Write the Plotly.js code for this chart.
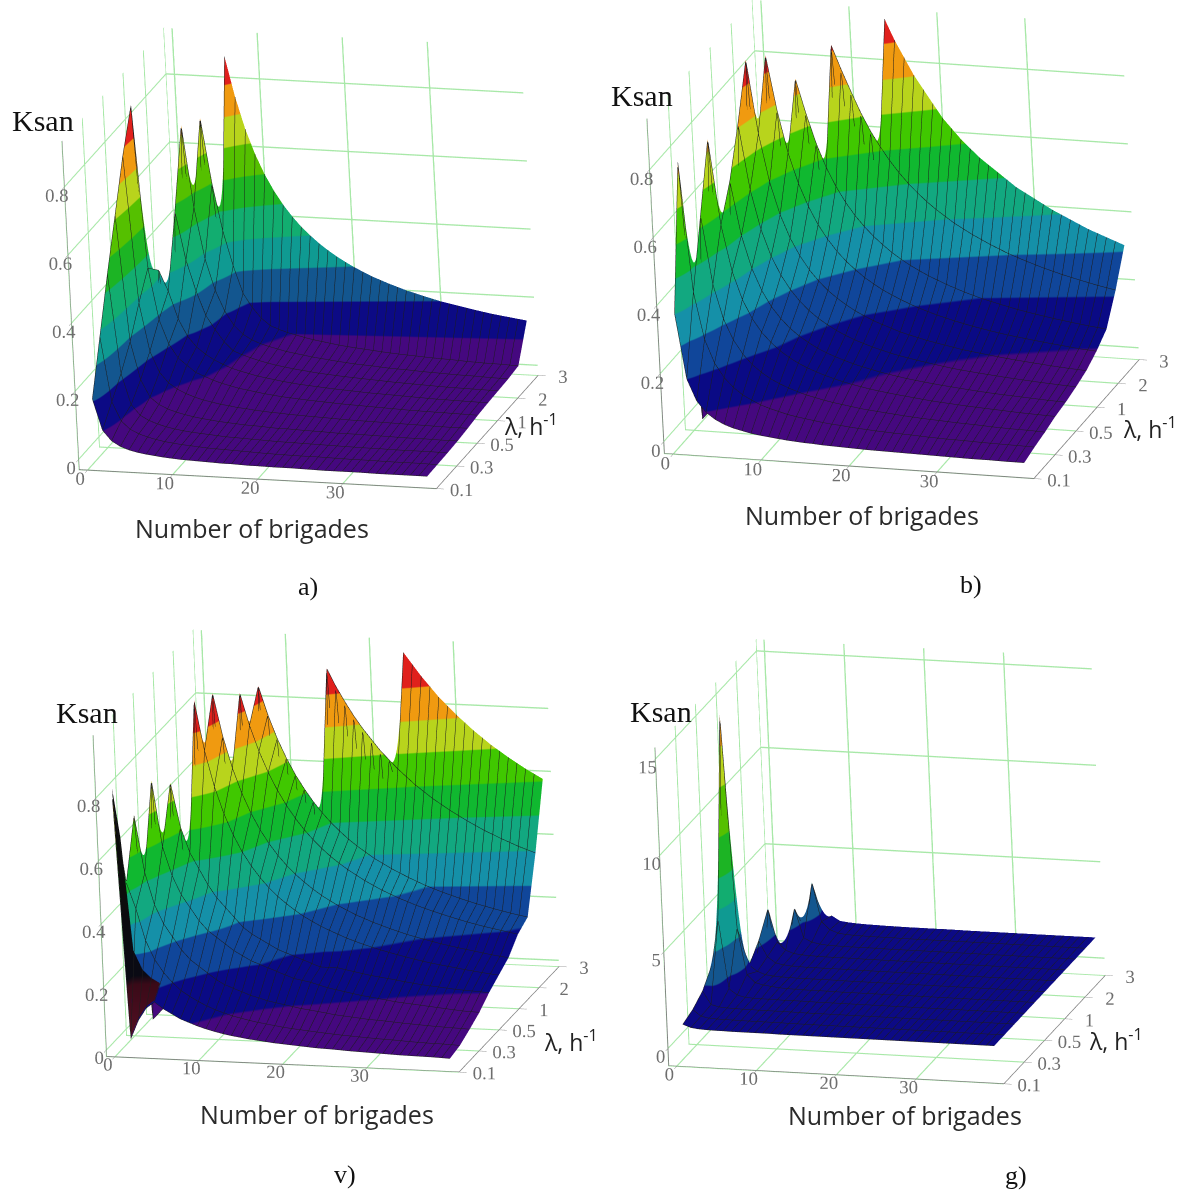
<!DOCTYPE html>
<html><head><meta charset="utf-8"><script src="https://cdn.plot.ly/plotly-3.0.1.min.js"></script>
<style>html,body{margin:0;padding:0;background:#fff}</style></head><body><div id="chart" style="width:1186px;height:1195px"></div>
<script>
const brigades=[1,2,3,4,5,6,7,8,9,10,11,12,13,14,15,16,17,18,19,20,22,24,26,28,30,32,34,36,38,40];
const lambdaIndex=[0,1,2,3,4,5,6,7,8,9,10];
const lambdaTickPos=[0,2,4,6,8,10];
const lambdaLabels=['0.1','0.3','0.5','1','2','3'];
const brigadeTicks=[0,10,20,30];
const zTicksUnit=[0,0.2,0.4,0.6,0.8];
const zTicksG=[0,5,10,15];
const panelNames=['a)','b)','v)','g)'];

const zA=[
[.18,.09,.06,.045,.036,.03,.026,.023,.02,.018,.016,.015,.014,.013,.012,.011,.011,.01,.009,.009,.008,.008,.007,.006,.006,.006,.005,.005,.005,.005],
[.33,.14,.085,.062,.05,.042,.036,.031,.028,.025,.023,.021,.019,.018,.017,.016,.015,.014,.013,.012,.011,.01,.01,.009,.008,.008,.007,.007,.007,.006],
[.48,.19,.1,.07,.056,.047,.04,.035,.031,.028,.026,.024,.022,.02,.019,.018,.017,.016,.015,.014,.013,.012,.011,.01,.009,.009,.008,.008,.008,.007],
[.62,.25,.14,.09,.07,.058,.05,.044,.039,.035,.032,.029,.027,.025,.023,.022,.021,.019,.018,.018,.016,.015,.013,.013,.012,.011,.01,.01,.009,.009],
[.76,.33,.19,.13,.1,.083,.071,.062,.055,.05,.045,.042,.038,.036,.033,.031,.029,.028,.026,.025,.023,.021,.019,.018,.017,.016,.015,.014,.013,.013],
[.875,.4,.25,.18,.14,.12,.1,.09,.08,.072,.066,.06,.056,.052,.048,.045,.042,.04,.038,.036,.033,.03,.028,.026,.024,.022,.021,.02,.019,.018],
[0,.36,.3,.22,.17,.14,.12,.105,.093,.083,.076,.07,.064,.06,.056,.052,.049,.046,.044,.042,.038,.035,.032,.03,.028,.026,.024,.023,.022,.021],
[0,0,.5,.36,.27,.2,.16,.125,.1,.09,.082,.075,.069,.064,.06,.056,.053,.05,.047,.045,.041,.038,.035,.032,.03,.028,.026,.025,.024,.023],
[0,0,.72,.48,.33,.24,.18,.14,.115,.1,.09,.083,.077,.071,.067,.063,.059,.056,.053,.05,.045,.042,.038,.036,.033,.031,.029,.028,.026,.025],
[0,0,0,.71,.52,.38,.28,.2,.16,.13,.11,.1,.092,.086,.08,.075,.071,.067,.063,.06,.055,.05,.046,.043,.04,.038,.035,.033,.032,.03],
[0,0,0,0,0,.86,.743,.65,.578,.52,.473,.433,.4,.371,.347,.325,.306,.289,.274,.26,.236,.217,.2,.186,.173,.163,.153,.144,.137,.13]];

const zB=[
[.38,.19,.127,.095,.076,.063,.054,.048,.042,.038,.035,.032,.029,.027,.025,.024,.022,.021,.02,.019,.017,.016,.015,.014,.013,.012,.011,.011,.01,.01],
[.79,.41,.273,.205,.164,.137,.117,.103,.091,.082,.075,.068,.063,.059,.055,.051,.048,.046,.043,.041,.037,.034,.032,.029,.027,.026,.024,.023,.022,.021],
[0,.6,.4,.3,.24,.2,.171,.15,.133,.12,.109,.1,.092,.086,.08,.075,.071,.067,.063,.06,.055,.05,.046,.043,.04,.038,.035,.033,.032,.03],
[0,.79,.54,.405,.324,.27,.231,.203,.18,.162,.147,.135,.125,.116,.108,.101,.095,.09,.085,.081,.074,.068,.062,.058,.054,.051,.048,.045,.043,.041],
[0,0,.633,.475,.38,.317,.271,.238,.211,.19,.173,.158,.146,.136,.127,.119,.112,.106,.1,.095,.086,.079,.073,.068,.063,.059,.056,.053,.05,.048],
[0,0,.767,.575,.46,.383,.329,.288,.256,.23,.209,.192,.177,.164,.153,.144,.135,.128,.121,.115,.105,.096,.088,.082,.077,.072,.068,.064,.061,.058],
[0,0,.92,.705,.564,.47,.403,.353,.313,.282,.256,.235,.217,.201,.188,.176,.166,.157,.148,.141,.128,.118,.108,.101,.094,.088,.083,.078,.074,.071],
[0,0,0,.9,.74,.617,.529,.463,.411,.37,.336,.308,.285,.264,.247,.231,.218,.206,.195,.185,.168,.154,.142,.132,.123,.116,.109,.103,.097,.093],
[0,0,0,0,0,.8,.7,.613,.544,.49,.445,.408,.377,.35,.327,.306,.288,.272,.258,.245,.223,.204,.188,.175,.163,.153,.144,.136,.129,.123],
[0,0,0,0,0,0,0,0,.87,.8,.736,.675,.623,.579,.54,.506,.476,.45,.426,.405,.368,.338,.312,.289,.27,.253,.238,.225,.213,.203],
[0,0,0,0,0,0,0,0,0,0,0,0,0,.92,.86,.81,.76,.72,.68,.64,.58,.53,.49,.45,.42,.39,.365,.34,.32,.3]];

const zV=[
[.8,.04,.1,.14,.16,.14,.125,.11,.1,.09,.082,.075,.069,.064,.06,.056,.053,.05,.047,.045,.041,.037,.035,.032,.03,.028,.026,.025,.024,.022],
[.5,.42,.32,.26,.22,.19,.165,.148,.133,.12,.109,.1,.092,.086,.08,.075,.071,.067,.063,.06,.055,.05,.046,.043,.04,.038,.035,.033,.032,.03],
[.68,.5,.4,.34,.3,.26,.23,.21,.19,.17,.155,.145,.135,.125,.118,.11,.105,.1,.095,.09,.083,.075,.07,.065,.062,.058,.055,.052,.05,.048],
[0,.76,.55,.46,.4,.36,.32,.29,.27,.25,.23,.215,.2,.19,.18,.17,.16,.15,.145,.14,.125,.115,.105,.098,.09,.085,.08,.075,.07,.068],
[0,0,.72,.58,.5,.45,.4,.36,.33,.3,.27,.25,.235,.22,.205,.195,.185,.175,.165,.155,.155,.145,.135,.128,.12,.113,.108,.103,.1,.097],
[0,0,0,0,.95,.792,.679,.594,.528,.475,.432,.396,.365,.339,.317,.297,.279,.264,.25,.238,.216,.198,.183,.17,.158,.148,.14,.132,.125,.119],
[0,0,0,0,0,.94,.806,.705,.627,.564,.513,.47,.434,.403,.376,.353,.332,.313,.297,.282,.256,.235,.217,.201,.188,.176,.166,.157,.148,.141],
[0,0,0,0,0,0,0,.91,.809,.728,.662,.607,.56,.52,.485,.455,.428,.404,.383,.364,.331,.303,.28,.26,.243,.228,.214,.202,.192,.182],
[0,0,0,0,0,0,0,0,.9,.81,.736,.675,.623,.579,.54,.506,.476,.45,.426,.405,.368,.338,.312,.289,.27,.253,.238,.225,.213,.203],
[0,0,0,0,0,0,0,0,0,0,0,0,0,0,0,.931,.876,.828,.784,.745,.677,.621,.573,.532,.497,.466,.438,.414,.392,.373],
[0,0,0,0,0,0,0,0,0,0,0,0,0,0,0,0,0,0,0,0,0,.958,.885,.821,.767,.719,.676,.639,.605,.575]];

const sliverX=[1,2,3,4,5];
const sliverY=[0,0.6];
const sliverZ=[[.835,.045,.105,.145,.165],[.66,.3,.24,.215,.2]];

const zG=[
[1.3,1.15,1.1,1.08,1.07,1.07,1.06,1.06,1.06,1.06,1.06,1.06,1.05,1.05,1.05,1.05,1.05,1.05,1.05,1.05,1.05,1.05,1.05,1.05,1.05,1.05,1.05,1.05,1.05,1.05],
[1.5,1.18,1.1,1.08,1.07,1.07,1.06,1.06,1.06,1.06,1.06,1.06,1.05,1.05,1.05,1.05,1.05,1.05,1.05,1.05,1.05,1.05,1.05,1.05,1.05,1.05,1.05,1.05,1.05,1.05],
[1.9,1.22,1.12,1.09,1.08,1.07,1.07,1.06,1.06,1.06,1.06,1.06,1.05,1.05,1.05,1.05,1.05,1.05,1.05,1.05,1.05,1.05,1.05,1.05,1.05,1.05,1.05,1.05,1.05,1.05],
[2.7,5.1,1.5,1.2,1.1,1.08,1.07,1.07,1.06,1.06,1.06,1.06,1.06,1.05,1.05,1.05,1.05,1.05,1.05,1.05,1.05,1.05,1.05,1.05,1.05,1.05,1.05,1.05,1.05,1.05],
[1.7,15.1,4.1,1.7,1.3,1.2,1.15,1.1,1.08,1.07,1.06,1.06,1.06,1.06,1.05,1.05,1.05,1.05,1.05,1.05,1.05,1.05,1.05,1.05,1.05,1.05,1.05,1.05,1.05,1.05],
[-.9,-.9,1.6,1.3,1.15,1.1,1.08,1.07,1.06,1.06,1.06,1.06,1.06,1.06,1.05,1.05,1.05,1.05,1.05,1.05,1.05,1.05,1.05,1.05,1.05,1.05,1.05,1.05,1.05,1.05],
[-.9,-.9,2.3,1.5,1.2,1.12,1.08,1.07,1.06,1.06,1.06,1.06,1.06,1.06,1.05,1.05,1.05,1.05,1.05,1.05,1.05,1.05,1.05,1.05,1.05,1.05,1.05,1.05,1.05,1.05],
[-.9,-.9,3.4,1.7,1.3,1.15,1.1,1.08,1.07,1.06,1.06,1.06,1.06,1.06,1.05,1.05,1.05,1.05,1.05,1.05,1.05,1.05,1.05,1.05,1.05,1.05,1.05,1.05,1.05,1.05],
[-.9,-.9,-.9,.8,2.9,1.4,1.2,1.12,1.08,1.07,1.06,1.06,1.06,1.06,1.06,1.05,1.05,1.05,1.05,1.05,1.05,1.05,1.05,1.05,1.05,1.05,1.05,1.05,1.05,1.05],
[-.9,-.9,-.9,-.9,1.1,3.7,1.7,1.3,1.15,1.1,1.08,1.07,1.06,1.06,1.06,1.06,1.05,1.05,1.05,1.05,1.05,1.05,1.05,1.05,1.05,1.05,1.05,1.05,1.05,1.05],
[-.9,-.9,-.9,-.9,-.9,1.1,1.45,1.2,1.15,1.12,1.1,1.09,1.08,1.07,1.07,1.06,1.06,1.06,1.06,1.06,1.06,1.05,1.05,1.05,1.05,1.05,1.05,1.05,1.05,1.05]];

const bandColors=['#45087f','#0c0a85','#13568f','#0f9a92','#12ad70','#1cb424','#55c000','#b8d41c','#f09a10','#e0201c'];
const bandColors2=['#45087f','#0a0a85','#10469a','#1590a8','#12a880','#10b830','#40c800','#b8d41c','#f09a10','#e0201c'];
const bandColorsG=['#0c0a85','#0c0a85','#13568f','#0f9a92','#12ad70','#1cb424','#55c000','#b8d41c','#f09a10','#6b4a20'];
const sliverColors=[[0,'#5a1026'],[0.4,'#3a0a18'],[0.45,'#0a0a14'],[1,'#0c0c0c']];
const gEdges=[-.9,.6,2.1,3.6,5.6,7.1,9.1,11.6,13.6,14.6,15.6];
const W=1186,H=1195;

function stepped(cols,edges){const out=[];const lo=edges[0],hi=edges[edges.length-1];
 cols.forEach((c,i)=>{out.push([(edges[i]-lo)/(hi-lo),c]);out.push([(edges[i+1]-lo)/(hi-lo),c]);});return out;}
const uniEdges=[0,.1,.2,.3,.4,.5,.6,.7,.8,.9,1];

function camera(azDeg,elDeg,rollDeg,dist,panUp){
 const a=azDeg*Math.PI/180,e=elDeg*Math.PI/180,ro=rollDeg*Math.PI/180;
 const d=[Math.sin(a)*Math.cos(e),-Math.cos(a)*Math.cos(e),Math.sin(e)];
 const r=[Math.cos(a),Math.sin(a),0];
 const u=[-Math.sin(a)*Math.sin(e),Math.cos(a)*Math.sin(e),Math.cos(e)];
 const up=[0,1,2].map(i=>u[i]*Math.cos(ro)+r[i]*Math.sin(ro));
 const c=[0,1,2].map(i=>-up[i]*panUp);
 const v=i=>c[i]+d[i]*dist;
 return {eye:{x:v(0),y:v(1),z:v(2)},center:{x:c[0],y:c[1],z:c[2]},up:{x:up[0],y:up[1],z:up[2]},projection:{type:'orthographic'}};
}
function axis(tickvals,ticktext,range,fs){
 return {range,tickmode:'array',tickvals,ticktext,title:{text:''},showbackground:true,backgroundcolor:'#ffffff',tickangle:0,
  gridcolor:'#a8e8a8',gridwidth:3,showline:true,linecolor:'#808080',linewidth:2,ticks:'outside',tickcolor:'#808080',ticklen:8,
  zeroline:false,showspikes:false,tickfont:{family:'Liberation Serif',size:fs,color:'#6e6e6e'}};
}
function scene(cx,cy,hw,hh,top,cam,zTicks,zRange,ar){
 return {domain:{x:[(cx-hw)/W,(cx+hw)/W],y:[1-(top+2*hh)/H,1-top/H]},camera:cam,aspectmode:'manual',aspectratio:ar,
  xaxis:axis(brigadeTicks,brigadeTicks.map(String),[-1,41],15),
  yaxis:axis(lambdaTickPos,lambdaLabels,[0,10],15),
  zaxis:axis(zTicks,zTicks.map(v=>v+'\u00a0\u00a0\u00a0\u00a0\u00a0'),zRange,15),bgcolor:'#ffffff'};
}
function surf(z,name,cs,cmin,cmax){
 return {type:'surface',x:brigades,y:lambdaIndex,z,scene:name,showscale:false,colorscale:cs,cmin,cmax,hoverinfo:'skip',
  lighting:{ambient:1,diffuse:0,specular:0,roughness:1,fresnel:0},
  contours:{x:{show:true,start:1,end:40,size:1,color:'#1c1c1c',width:1,highlight:false},
            y:{show:true,start:0,end:10,size:1,color:'#1c1c1c',width:1,highlight:false},
            z:{show:false,highlight:false}}};
}
const csU=stepped(bandColors,uniEdges);
const csU2=stepped(bandColors2,uniEdges);
const csG=stepped(bandColorsG,gEdges);
const sliver={type:'surface',x:sliverX,y:sliverY,z:sliverZ,scene:'scene3',showscale:false,colorscale:sliverColors,cmin:0,cmax:.5,hoverinfo:'skip',lighting:{ambient:1,diffuse:0,specular:0,roughness:1,fresnel:0}};
const data=[surf(zA,'scene',csU,0,.87),surf(zB,'scene2',csU2,0,.95),surf(zV,'scene3',csU2,0,.95),sliver,surf(zG,'scene4',csG,-.9,15.6)];

function ann(text,x,y,size,family,color){
 return {text,x:x/W,y:1-y/H,xref:'paper',yref:'paper',showarrow:false,xanchor:'center',yanchor:'middle',font:{size,family,color:color||'#111'}};
}
const serif='Liberation Serif',sans='Open Sans';
const annotations=[
 ann('Ksan',43,120,30,serif),ann('Number of brigades',252,528,25,sans,'#2a2a2a'),ann('λ, h<sup>-1</sup>',531,425,23,sans,'#222'),ann(panelNames[0],308,586,26,serif),
 ann('Ksan',642,95,30,serif),ann('Number of brigades',862,515,25,sans,'#2a2a2a'),ann('λ, h<sup>-1</sup>',1150,428,23,sans,'#222'),ann(panelNames[1],971,584,26,serif),
 ann('Ksan',87,712,30,serif),ann('Number of brigades',317,1114,25,sans,'#2a2a2a'),ann('λ, h<sup>-1</sup>',571,1041,23,sans,'#222'),ann(panelNames[2],345,1174,26,serif),
 ann('Ksan',661,711,30,serif),ann('Number of brigades',905,1115,25,sans,'#2a2a2a'),ann('λ, h<sup>-1</sup>',1116,1040,23,sans,'#222'),ann(panelNames[3],1016,1175,26,serif)
];
const S=274,D=1.667;
const layout={width:W,height:H,margin:{l:0,r:0,t:0,b:0},paper_bgcolor:'#fff',showlegend:false,annotations,
 scene:scene(300,290,280,290,0,camera(18,19,3,D,30/S),zTicksUnit,[-.03,.935],{x:1.29,y:1.2,z:1.2}),
 scene2:scene(893,290,280,290,0,camera(19,20.5,3,D,48/S),zTicksUnit,[-.035,.95],{x:1.341,y:1.18,z:1.234}),
 scene3:scene(326,870,280,290,580,camera(16.6,16.8,2.4,D,18/S),zTicksUnit,[-.02,1],{x:1.265,y:1.26,z:1.158}),
 scene4:scene(880,870,280,290,580,camera(17.5,18,2.5,D,8/S),zTicksG,[-.9,15.6],{x:1.208,y:1.215,z:1.155})};
Plotly.newPlot('chart',data,layout,{displayModeBar:false});
</script></body></html>
